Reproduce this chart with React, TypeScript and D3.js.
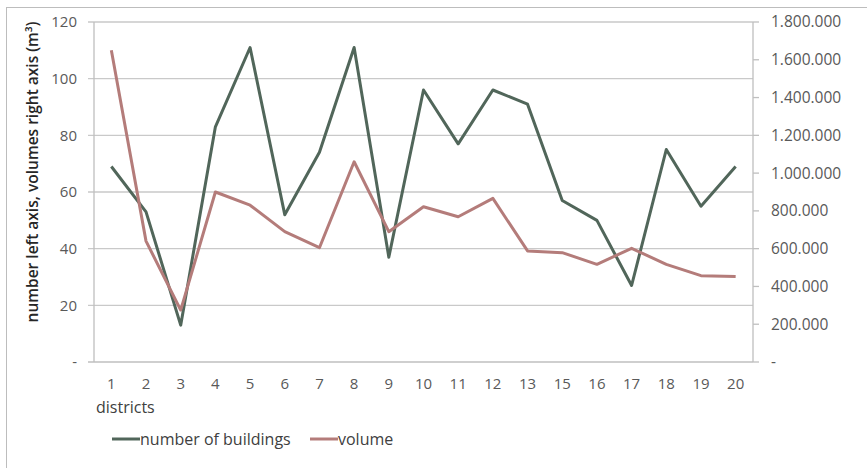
import React, { useEffect, useRef } from 'react';
import * as d3 from 'd3';

// districts (14 is missing in the source)
const districts = ['1', '2', '3', '4', '5', '6', '7', '8', '9', '10', '11', '12', '13', '15', '16', '17', '18', '19', '20'];

const buildings = [69, 53, 13, 83, 111, 52, 74, 111, 37, 96, 77, 96, 91, 57, 50, 27, 75, 55, 69];

const volumes = [
  1650000, 640000, 275000, 900000, 830000, 690000, 605000, 1060000, 690000, 822000,
  769000, 866000, 588000, 579000, 517000, 602000, 517000, 457000, 452000,
];

const leftTicks = [0, 20, 40, 60, 80, 100, 120];
const rightTicks = [0, 200000, 400000, 600000, 800000, 1000000, 1200000, 1400000, 1600000, 1800000];

const GREEN = '#51665a';
const ROSE = '#b47c7a';
const FONT = '"Open Sans", "Liberation Sans", sans-serif';

const fmtRight = (v: number) => (v === 0 ? '-' : d3.format(',')(v).replace(/,/g, '.'));

const App = () => {
  const ref = useRef<SVGSVGElement>(null);

  useEffect(() => {
    const svg = d3.select(ref.current);
    svg.selectAll('*').remove();

    const W = 867;
    const H = 468;
    const margin = { top: 22, right: 114, bottom: 106, left: 94 };
    const width = W - margin.left - margin.right;
    const height = H - margin.top - margin.bottom;

    // outer frame
    svg.append('rect')
      .attr('x', 6.5)
      .attr('y', 7.5)
      .attr('width', W)
      .attr('height', H)
      .attr('fill', 'white')
      .attr('stroke', '#bdbdbd')
      .attr('stroke-width', 1);

    const g = svg.append('g').attr('transform', `translate(${margin.left},${margin.top})`);

    const x = d3.scalePoint<string>()
      .domain(districts)
      .range([0, width])
      .padding(0.5);

    const yL = d3.scaleLinear().domain([0, 120]).range([height, 0]);
    const yR = d3.scaleLinear().domain([0, 1800000]).range([height, 0]);

    // gridlines
    g.append('g')
      .selectAll('line')
      .data(leftTicks)
      .enter()
      .append('line')
      .attr('x1', -6)
      .attr('x2', width)
      .attr('y1', d => yL(d))
      .attr('y2', d => yL(d))
      .attr('stroke', d => (d === 0 ? '#bfbfbf' : '#c9c9c9'))
      .attr('stroke-width', 1.3);

    // left axis line
    g.append('line')
      .attr('x1', 0).attr('x2', 0)
      .attr('y1', 0).attr('y2', height)
      .attr('stroke', '#bfbfbf')
      .attr('stroke-width', 1.3);

    // right axis line + ticks
    g.append('line')
      .attr('x1', width).attr('x2', width)
      .attr('y1', 0).attr('y2', height)
      .attr('stroke', '#bfbfbf')
      .attr('stroke-width', 1.3);

    g.append('g')
      .selectAll('line')
      .data(rightTicks)
      .enter()
      .append('line')
      .attr('x1', width)
      .attr('x2', width + 6)
      .attr('y1', d => yR(d))
      .attr('y2', d => yR(d))
      .attr('stroke', '#bfbfbf')
      .attr('stroke-width', 1.3);

    // left tick labels
    g.append('g')
      .selectAll('text')
      .data(leftTicks)
      .enter()
      .append('text')
      .attr('x', -17)
      .attr('y', d => yL(d))
      .attr('dy', '0.35em')
      .attr('text-anchor', 'end')
      .style('font-family', FONT)
      .style('font-size', '15px')
      .style('fill', '#595959')
      .text(d => (d === 0 ? '-' : String(d)));

    // right tick labels
    g.append('g')
      .selectAll('text')
      .data(rightTicks)
      .enter()
      .append('text')
      .attr('x', width + 18)
      .attr('y', d => yR(d))
      .attr('dy', '0.35em')
      .attr('text-anchor', 'start')
      .style('font-family', FONT)
      .style('font-size', '15.5px')
      .style('fill', '#595959')
      .text(d => fmtRight(d));

    // x tick labels
    g.append('g')
      .selectAll('text')
      .data(districts)
      .enter()
      .append('text')
      .attr('x', d => x(d) as number)
      .attr('y', height + 27)
      .attr('text-anchor', 'middle')
      .style('font-family', FONT)
      .style('font-size', '15px')
      .style('fill', '#595959')
      .text(d => d);

    // x axis title
    g.append('text')
      .attr('x', 2)
      .attr('y', height + 51)
      .style('font-family', FONT)
      .style('font-size', '16px')
      .style('fill', '#404040')
      .text('districts');

    // y axis title
    svg.append('text')
      .attr('transform', `translate(38,${margin.top + height / 2 - 20}) rotate(-90)`)
      .attr('text-anchor', 'middle')
      .style('font-family', FONT)
      .style('font-size', '15.5px')
      .style('font-weight', 600)
      .style('fill', '#262626')
      .text('number left axis, volumes right axis (m³)');

    // lines
    const lineL = d3.line<number>()
      .x((_, i) => x(districts[i]) as number)
      .y(d => yL(d));
    const lineR = d3.line<number>()
      .x((_, i) => x(districts[i]) as number)
      .y(d => yR(d));

    g.append('path')
      .datum(buildings)
      .attr('fill', 'none')
      .attr('stroke', GREEN)
      .attr('stroke-width', 3)
      .attr('stroke-linejoin', 'round')
      .attr('d', lineL);

    g.append('path')
      .datum(volumes)
      .attr('fill', 'none')
      .attr('stroke', ROSE)
      .attr('stroke-width', 3)
      .attr('stroke-linejoin', 'round')
      .attr('d', lineR);

    // legend
    const legend = [
      { label: 'number of buildings', color: GREEN, x: 112 },
      { label: 'volume', color: ROSE, x: 310 },
    ];
    const lg = svg.append('g');
    legend.forEach(l => {
      lg.append('line')
        .attr('x1', l.x)
        .attr('x2', l.x + 28)
        .attr('y1', 439)
        .attr('y2', 439)
        .attr('stroke', l.color)
        .attr('stroke-width', 3);
      lg.append('text')
        .attr('x', l.x + 28)
        .attr('y', 439)
        .attr('dy', '0.35em')
        .style('font-family', FONT)
        .style('font-size', '16px')
        .style('fill', '#404040')
        .text(l.label);
    });
  }, []);

  return (
    <svg
      ref={ref}
      width={867}
      height={468}
      style={{ position: 'absolute', left: 0, top: 0, background: 'white' }}
    />
  );
};

export default App;
